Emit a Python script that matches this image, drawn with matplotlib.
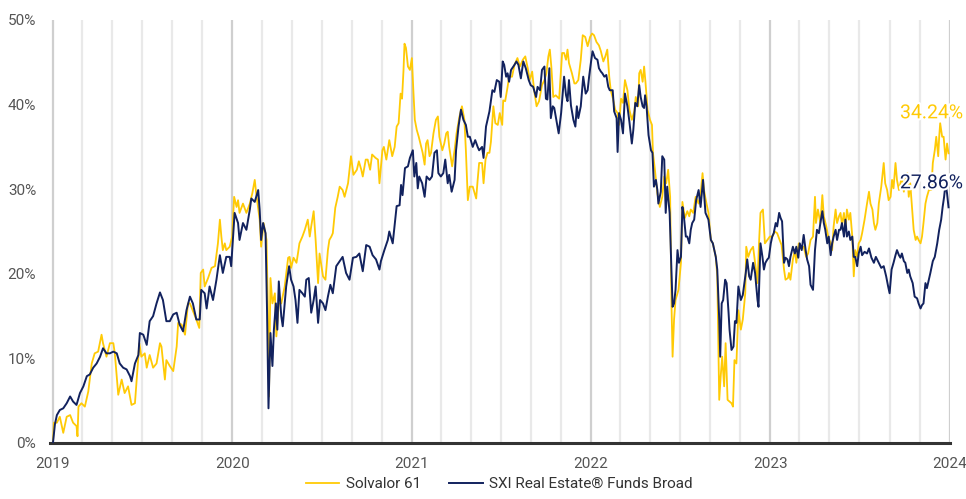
import matplotlib
matplotlib.use('Agg')
import matplotlib.pyplot as plt
import matplotlib.dates as mdates
import matplotlib.patheffects as pe
import numpy as np
import pandas as pd

plt.rcParams['font.family'] = ['Roboto', 'DejaVu Sans']

# ---- data: (days since 2019-01-01, cumulative performance in %) ----
sxi_a = [(0,0.0),(4,2.2),(8,3.3),(14,3.9),(21,4.1),(28,4.7),(35,5.5),(41,4.9),(48,4.5),(55,5.9),(62,6.7),(69,7.9),(75,8.1),(82,8.9),(89,9.4),(96,10.2),(102,11.2),(109,10.6),(116,10.6),(123,10.8),(130,10.6),(136,9.4),(143,8.9),(150,8.7),(157,7.9),(160,7.3),(167,9.4),(174,10.4),(177,13.0),(184,12.8),(191,11.6),(197,14.4),(204,15.0),(211,16.5),(218,17.8),(224,16.9),(231,14.4),(238,14.4),(245,15.2),(252,15.4),(258,14.0),(265,13.2),(272,15.7)]
sxi_b = [(279,17.3),(285,16.5),(292,14.6),(299,14.6),(302,18.1),(309,17.7),(313,15.9),(319,18.5),(326,16.9),(333,19.3),(340,22.2),(346,20.1),(353,22.0),(360,22.0),(363,20.9),(370,27.2),(377,26.0),(380,24.0),(387,26.0),(394,25.2),(401,27.6),(404,28.9),(411,28.5),(418,29.9),(421,27.6),(424,24.0),(428,26.0),(433,24.8),(436,15.7),(439,4.1),(443,13.0),(447,9.1),(450,13.4),(454,16.5),(457,13.4),(460,19.1),(465,15.0),(468,13.8),(472,16.5),(475,18.5),(481,20.9),(485,19.3),(490,18.5),(494,16.9),(498,14.2),(502,18.1),(508,17.7),(513,17.3),(516,19.3),(521,19.5),(526,15.4),(531,16.9),(535,18.5),(540,14.2),(544,16.9),(550,16.5),(555,15.7),(560,17.3),(565,18.7),(570,17.7),(577,20.9)]
sxi_c = [(584,21.5),(590,22.0),(597,20.1),(604,19.3),(611,21.9),(618,22.0),(624,22.4),(631,20.3),(638,23.4),(645,23.2),(651,22.2),(658,21.7),(665,20.5),(668,21.5),(675,22.8),(682,24.0),(685,25.0),(692,23.6),(696,25.8),(700,28.0),(706,28.1),(709,30.5),(712,29.3),(717,32.5),(723,32.7),(727,33.7),(733,34.6),(736,31.5),(740,33.1),(743,30.1),(746,31.5),(752,30.7),(757,29.1),(761,31.5),(767,31.1),(772,31.5),(777,34.3),(782,34.6),(785,31.9),(790,31.5),(795,31.9),(799,33.5),(804,30.7),(807,31.7),(812,29.7),(818,31.1),(821,34.6),(826,37.4),(831,39.4),(836,38.2),(841,37.6),(845,36.2),(849,36.2),(855,35.0),(860,35.8),(865,35.0),(868,34.6),(874,35.0),(877,33.7),(882,37.4)]
sxi_d = [(889,39.2),(895,41.7),(899,41.5),(904,42.9),(909,42.7),(912,40.9),(916,45.1),(919,44.7),(923,43.3),(926,43.7),(929,42.7),(933,44.1),(940,44.7),(944,45.1),(948,44.7),(953,43.1),(958,45.1),(963,44.3),(969,42.9),(973,42.3),(978,42.1),(984,40.9),(987,42.1),(992,41.7),(996,44.1),(1001,44.5),(1004,40.7),(1007,40.6),(1011,44.3),(1014,38.4),(1018,39.8),(1021,39.6),(1024,38.6),(1030,36.6),(1035,39.0),(1038,41.1),(1041,43.3),(1045,41.1),(1048,40.4),(1051,42.9),(1055,39.9),(1060,38.2),(1064,37.4),(1067,39.8),(1070,38.4),(1075,39.8),(1080,43.3),(1085,41.3),(1089,41.7),(1092,43.3),(1096,45.1),(1099,46.3),(1104,45.5),(1109,45.3),(1112,44.3),(1116,43.9),(1119,43.7),(1123,43.3),(1127,43.5),(1131,42.1),(1134,41.7),(1140,41.7),(1143,39.2),(1148,38.4),(1150,34.4),(1153,39.0),(1157,38.2),(1161,36.6),(1165,41.3),(1170,39.8),(1174,38.0),(1179,35.4),(1182,37.0),(1186,40.2),(1190,39.8)]
sxi_e = [(1194,42.3),(1197,40.9),(1201,39.8),(1204,39.6),(1206,41.1),(1209,39.8),(1213,36.4),(1218,34.6),(1221,34.3),(1224,30.3),(1228,31.1),(1231,29.9),(1233,28.3),(1238,29.7),(1241,33.9),(1245,33.5),(1248,27.2),(1251,30.3),(1256,27.2),(1262,16.1),(1265,16.5),(1268,18.1),(1272,22.8),(1275,21.3),(1279,22.0),(1282,27.9),(1285,26.8),(1289,24.4),(1292,24.4),(1296,23.6),(1299,25.2),(1302,26.0),(1306,26.4),(1310,28.7),(1315,29.9),(1319,27.9),(1324,31.1),(1329,27.2),(1335,26.4),(1340,24.0),(1344,23.6),(1350,22.0),(1353,20.5),(1357,14.6),(1359,10.2),(1362,16.5),(1365,16.9),(1369,19.3),(1372,18.9),(1376,15.4),(1378,13.4),(1382,11.0),(1386,11.4),(1389,14.4),(1392,14.2),(1396,18.5),(1401,16.9),(1405,17.5),(1411,20.1),(1414,21.7),(1418,19.7),(1421,19.3),(1426,21.3),(1430,20.1),(1435,16.9),(1437,16.1),(1441,23.6),(1445,22.0),(1448,20.5),(1451,21.3),(1455,21.7),(1458,21.9),(1462,23.6),(1465,24.4),(1468,24.8),(1472,26.0),(1475,25.6),(1479,27.2),(1482,26.6),(1485,26.2),(1489,21.3),(1492,21.9),(1496,21.7)]
sxi_f = [(1499,20.9),(1502,22.0),(1507,23.2),(1511,22.4),(1514,23.2),(1518,21.9),(1521,23.6),(1525,22.8),(1529,24.6),(1533,22.8),(1536,21.7),(1540,20.9),(1543,18.7),(1548,18.1),(1552,22.8),(1556,25.2),(1560,24.8),(1563,26.0),(1567,27.4),(1570,26.0),(1573,25.2),(1577,23.6),(1580,24.4),(1584,22.2),(1587,23.6),(1590,24.4),(1594,25.2),(1597,24.0),(1601,25.2),(1604,25.2),(1607,26.0),(1611,24.4),(1614,26.4),(1617,24.4),(1621,25.0),(1624,24.0),(1628,24.4),(1631,22.0),(1634,22.0),(1638,20.9),(1641,22.4),(1645,23.2),(1648,22.2),(1653,22.6),(1658,22.4),(1662,23.0),(1667,21.9),(1672,21.3),(1676,22.0),(1682,21.3),(1687,20.7),(1692,20.9),(1697,19.7),(1701,18.5),(1704,17.7),(1708,20.5),(1712,21.3),(1716,22.2),(1719,22.8),(1723,22.2),(1726,21.9),(1729,22.4),(1733,21.5),(1736,21.3),(1740,20.1),(1743,20.5),(1746,19.7),(1751,18.9),(1755,17.3),(1760,17.1),(1763,16.5),(1767,15.9),(1770,16.3),(1773,16.5),(1777,18.9),(1780,18.3),(1784,19.3),(1787,20.1),(1792,21.5),(1796,22.0),(1801,23.6),(1805,25.2),(1809,26.4),(1812,27.9),(1815,29.1),(1818,30.7),(1821,29.5),(1824,27.86)]

sol_a = [(0,0.0),(2,2.4),(8,2.4),(14,3.1),(21,1.2),(28,3.1),(35,3.3),(41,2.4),(48,2.0),(50,0.8),(52,4.3),(58,4.7),(65,4.3),(72,6.1),(79,9.4),(85,10.6),(92,10.8),(99,12.8),(102,11.8),(109,10.2),(116,11.8),(123,11.8),(126,10.6),(133,5.7),(140,7.5),(146,5.9),(153,6.7),(160,4.5),(167,4.7),(170,7.1),(176,11.8),(180,10.2),(187,10.6),(191,8.9),(197,10.4),(204,8.9),(211,9.4),(218,11.8),(221,11.4),(228,7.5),(231,9.8),(238,9.1),(245,8.5),(252,11.4),(255,14.2),(262,14.0),(269,12.8),(275,16.5)]
sol_b = [(279,16.5),(292,14.6),(298,13.6),(301,20.1),(306,20.5),(309,18.5),(316,19.5),(323,20.7),(330,20.9),(336,23.6),(340,26.4),(343,24.4),(346,22.8),(350,23.6),(353,22.8),(360,23.2),(365,24.4),(369,29.1),(374,27.9),(377,28.7),(380,27.2),(387,28.3),(394,27.2),(401,28.3),(406,29.5),(411,31.1),(414,29.5),(421,26.4),(424,23.2),(429,26.0),(435,24.0),(438,15.0),(440,5.5),(443,19.5),(447,16.5),(452,17.7),(455,12.6),(460,16.5),(465,16.5),(472,18.5),(479,21.9),(482,22.0),(485,20.7),(490,21.9),(496,21.3),(499,22.4),(502,23.6),(508,24.4),(513,25.2),(519,26.4),(523,24.4),(526,25.6),(531,27.4),(535,24.0),(540,18.9),(543,22.4),(550,19.7),(555,19.3),(560,22.8),(563,24.0),(567,24.4),(570,24.8),(575,27.8),(580,29.1)]
sol_c = [(584,30.3),(590,29.9),(594,29.1),(601,30.7),(607,33.9),(612,31.7),(619,32.3),(623,33.3),(628,32.3),(631,31.5),(637,33.5),(641,33.5),(646,32.3),(650,34.1),(657,33.7),(662,33.5),(665,30.7),(671,34.6),(674,35.0),(679,33.5),(685,35.8),(691,33.9),(696,35.0),(700,37.4),(704,37.8),(708,41.3),(711,40.7),(714,44.1),(716,47.2),(719,46.7),(723,44.5),(727,44.1),(731,45.5),(734,41.7),(737,38.2),(741,37.0),(745,36.2),(750,35.0),(753,34.3),(757,32.9),(760,35.4),(763,35.8),(767,33.9),(770,34.3),(775,36.6),(780,38.2),(784,38.6),(787,36.2),(793,34.6),(797,35.4),(801,36.6),(804,36.8),(807,35.0),(813,32.7),(818,34.6),(822,36.6),(828,38.6),(833,39.8),(838,38.2),(841,34.6),(845,28.7),(849,30.3),(855,30.3),(858,29.7),(862,28.9),(865,31.1),(868,33.1),(874,33.1),(877,30.7),(881,33.5),(885,34.3)]
sol_d = [(889,34.3),(892,35.6),(897,39.8),(901,37.8),(906,37.6),(910,39.0),(915,37.6),(917,40.5),(921,40.4),(926,42.1),(929,43.3),(935,43.3),(940,44.7),(946,45.5),(951,44.5),(957,45.3),(962,45.7),(967,44.3),(971,42.9),(976,43.9),(980,41.7),(985,39.8),(990,40.4),(996,42.3),(1001,42.9),(1005,43.7),(1009,45.7),(1012,46.5),(1015,44.5),(1019,40.9),(1024,41.1),(1031,40.7),(1037,46.1),(1041,46.1),(1045,45.3),(1048,46.5),(1051,44.9),(1057,43.7),(1062,42.5),(1065,42.5),(1070,42.9),(1075,45.3),(1079,48.2),(1084,48.0),(1089,46.9),(1094,48.0),(1098,48.4),(1102,48.2),(1107,47.4),(1112,47.0),(1116,46.3),(1121,45.1),(1125,45.7),(1129,46.5),(1133,43.3),(1136,41.7),(1141,40.6),(1145,39.4),(1150,39.0),(1153,37.6),(1157,40.7),(1161,40.2),(1165,42.9),(1170,41.7),(1174,39.4),(1179,38.2),(1184,39.2),(1187,40.9),(1192,39.8)]
sol_e = [(1194,43.7),(1197,44.1),(1201,42.7),(1204,44.5),(1207,42.5),(1211,39.4),(1216,38.2),(1220,37.6),(1222,34.3),(1226,32.3),(1231,29.5),(1236,27.9),(1241,29.1),(1245,31.5),(1249,30.7),(1253,32.3),(1257,29.1),(1260,15.7),(1262,10.2),(1265,14.6),(1268,16.9),(1274,18.1),(1279,21.3),(1282,28.5),(1287,26.6),(1292,27.4),(1296,26.8),(1299,27.6),(1304,27.2),(1309,29.1),(1315,28.3),(1319,29.3),(1323,31.9),(1326,29.9),(1329,28.9),(1335,27.2),(1340,24.0),(1344,23.6),(1350,22.0),(1353,19.7),(1357,5.1),(1360,7.9),(1363,10.2),(1367,6.7),(1370,11.8),(1374,5.1),(1378,4.9),(1382,4.7),(1385,4.3),(1388,9.8),(1392,9.4),(1396,15.7),(1401,13.4),(1405,14.6),(1410,17.7),(1412,23.2),(1416,22.0),(1421,22.8),(1426,23.2),(1430,21.3),(1435,18.9),(1438,23.6),(1441,27.2),(1446,27.6),(1450,23.6),(1455,24.0),(1460,24.4),(1465,24.4),(1470,25.0),(1475,24.8),(1480,24.0),(1484,23.4),(1489,20.5),(1492,19.3),(1497,19.5)]
sol_f = [(1499,20.1),(1502,19.3),(1507,21.7),(1511,22.8),(1514,21.3),(1519,23.6),(1525,23.0),(1529,23.2),(1534,22.0),(1538,22.4),(1543,24.0),(1548,24.4),(1552,29.1),(1554,26.0),(1558,27.6),(1563,26.0),(1567,29.3),(1570,26.8),(1575,25.6),(1579,24.4),(1584,23.6),(1587,22.8),(1590,25.6),(1594,27.6),(1597,26.0),(1601,26.8),(1604,27.2),(1607,25.8),(1611,27.2),(1614,25.2),(1617,27.6),(1621,26.4),(1624,27.2),(1628,24.4),(1631,19.7),(1634,22.8),(1638,22.0),(1641,23.6),(1645,24.0),(1648,24.8),(1653,26.4),(1658,28.3),(1662,29.7),(1665,28.3),(1669,27.6),(1672,26.0),(1675,25.2),(1679,26.0),(1682,28.3),(1687,30.3),(1692,33.1),(1695,30.7),(1699,29.9),(1702,28.7),(1706,29.1),(1709,31.1),(1712,30.1),(1716,33.1),(1719,31.1),(1723,29.9),(1726,30.7),(1729,31.5),(1733,29.7),(1736,31.1),(1740,31.9),(1743,29.1),(1746,30.7),(1750,27.6),(1753,25.2),(1757,24.0),(1760,24.4),(1763,24.0),(1767,23.6),(1770,24.4),(1773,26.0),(1777,28.3),(1780,29.1),(1784,29.9),(1789,29.9),(1792,33.1),(1796,34.6),(1799,36.2),(1803,33.9),(1805,36.2),(1807,37.8),(1811,36.2),(1814,36.2),(1818,33.5),(1821,35.4),(1824,34.24)]

series_names = ['Solvalor 61', 'SXI Real Estate® Funds Broad']
y_ticks = [0, 10, 20, 30, 40, 50]

YEL = '#FFCA05'
NAVY = '#12225E'
start = pd.Timestamp('2019-01-01')


def to_series(*segs):
    pts = [p for s in segs for p in s]
    d = start + pd.to_timedelta([p[0] for p in pts], unit='D')
    v = np.array([p[1] for p in pts])
    return d, v


sol_x, sol_y = to_series(sol_a, sol_b, sol_c, sol_d, sol_e, sol_f)
sxi_x, sxi_y = to_series(sxi_a, sxi_b, sxi_c, sxi_d, sxi_e, sxi_f)

fig = plt.figure(figsize=(9.66, 4.99), dpi=100)
ax = fig.add_axes([50 / 966, 1 - 443 / 499, 900 / 966, 423 / 499])

ax.plot(sol_x, sol_y, color=YEL, lw=1.3, label=series_names[0], zorder=3)
ax.plot(sxi_x, sxi_y, color=NAVY, lw=1.4, label=series_names[1], zorder=4)

ax.set_ylim(0, 50)
ax.set_xlim(start - pd.Timedelta(days=6), pd.Timestamp('2024-01-02'))
ax.set_yticks(y_ticks)
ax.set_yticklabels([f'{t}%' for t in y_ticks])
ax.xaxis.set_major_locator(mdates.YearLocator())
ax.xaxis.set_major_formatter(mdates.DateFormatter('%Y'))
ax.xaxis.set_minor_locator(mdates.MonthLocator(bymonth=[3, 5, 7, 9, 11]))
ax.grid(axis='x', which='major', color='#cfcfcf', lw=1.6)
ax.grid(axis='x', which='minor', color='#e9e9e9', lw=1.6)
ax.grid(axis='y', visible=False)
ax.set_axisbelow(True)
for s in ['top', 'left', 'right']:
    ax.spines[s].set_visible(False)
ax.spines['bottom'].set_color('#333333')
ax.spines['bottom'].set_linewidth(2.2)
ax.tick_params(axis='both', which='both', length=0, labelcolor='#555555', labelsize=11)
ax.tick_params(axis='x', pad=10)
ax.tick_params(axis='y', pad=10)

halo = [pe.withStroke(linewidth=3, foreground='white')]
ax.annotate('34.24%', xy=(sol_x[-1], sol_y[-1]), xytext=(15, 40), textcoords='offset pixels',
            ha='right', va='center', color=YEL, fontsize=14, annotation_clip=False,
            path_effects=halo, zorder=6)
ax.annotate('27.86%', xy=(sxi_x[-1], sxi_y[-1]), xytext=(15, 24), textcoords='offset pixels',
            ha='right', va='center', color=NAVY, fontsize=14, annotation_clip=False,
            path_effects=halo, zorder=6)

fig.legend(loc='lower center', bbox_to_anchor=(0.517, -0.012), ncol=2, frameon=False,
           fontsize=11, handlelength=2.2, handletextpad=0.45, columnspacing=1.8,
           labelcolor='#333333')

fig.savefig('out.png', dpi=100)
